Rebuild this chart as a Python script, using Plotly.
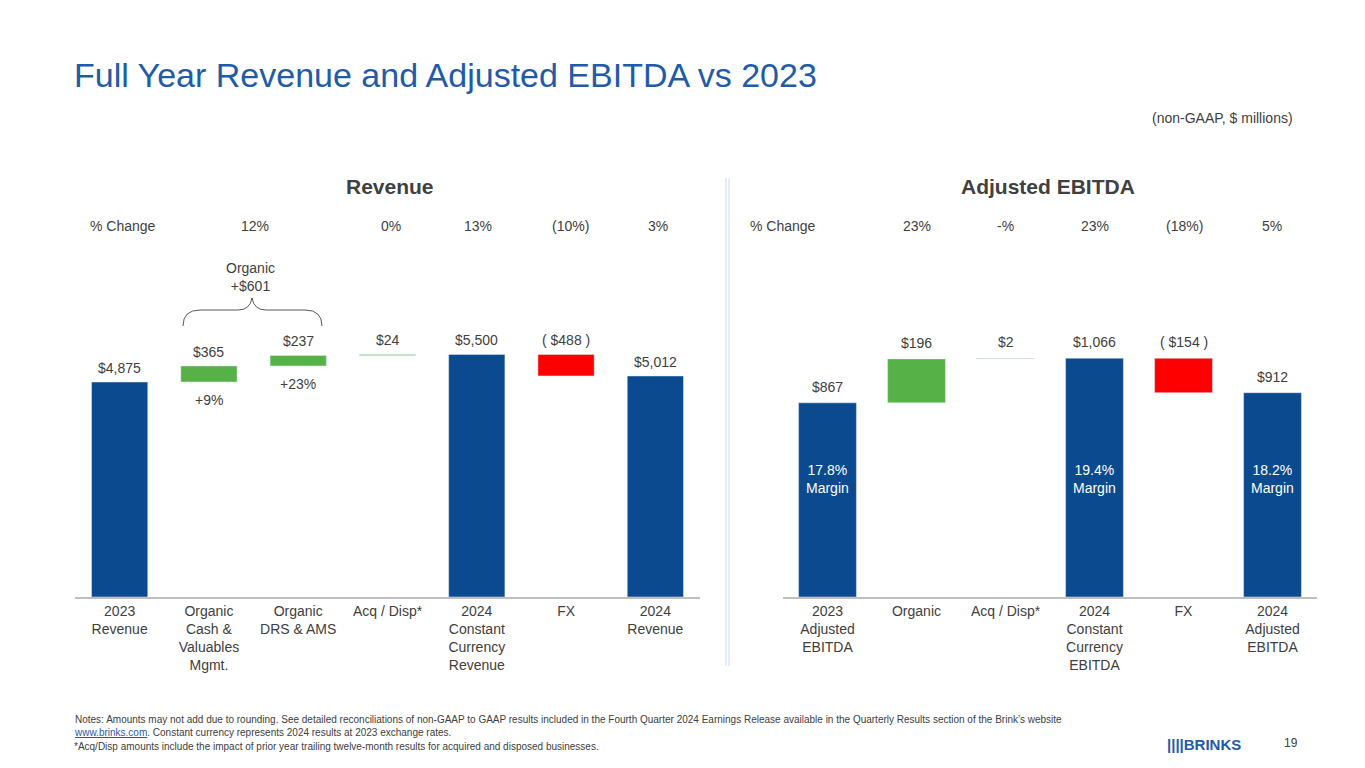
import plotly.graph_objects as go

rev_cats = ["2023<br>Revenue", "Organic<br>Cash &<br>Valuables<br>Mgmt.", "Organic<br>DRS & AMS", "Acq / Disp*", "2024<br>Constant<br>Currency<br>Revenue", "FX", "2024<br>Revenue"]
rev_vals = [4875, 365, 237, 24, 5500, -488, 5012]
rev_kind = ["total", "delta", "delta", "delta", "total", "delta", "total"]
rev_labels = ["$4,875", "$365", "$237", "$24", "$5,500", "( $488 )", "$5,012"]
rev_pct = ["% Change", "12%", "", "0%", "13%", "(10%)", "3%"]

eb_cats = ["2023<br>Adjusted<br>EBITDA", "Organic", "Acq / Disp*", "2024<br>Constant<br>Currency<br>EBITDA", "FX", "2024<br>Adjusted<br>EBITDA"]
eb_vals = [867, 196, 2, 1066, -154, 912]
eb_kind = ["total", "delta", "delta", "total", "delta", "total"]
eb_labels = ["$867", "$196", "$2", "$1,066", "( $154 )", "$912"]
eb_pct = ["% Change", "23%", "-%", "23%", "(18%)", "5%"]
eb_margin = ["17.8%<br>Margin", "", "", "19.4%<br>Margin", "", "18.2%<br>Margin"]

BLUE, GREEN, RED, TXT = "#0B4A8F", "#56B146", "#FF0000", "#404040"

def bars(vals, kind):
    base, height, col = [], [], []
    run = 0
    for v, k in zip(vals, kind):
        if k == "total":
            base.append(0); height.append(v); col.append(BLUE); run = v
        else:
            if v >= 0:
                base.append(run); height.append(v); col.append(GREEN)
            else:
                base.append(run + v); height.append(-v); col.append(RED)
            run += v
    return base, height, col

W, H = 1365, 768
OFF = 8
def px(x): return (x - OFF) / W
def py(y): return 1 - (y - OFF) / H

fig = go.Figure()
rb, rh, rc = bars(rev_vals, rev_kind)
eb, eh, ec = bars(eb_vals, eb_kind)
fig.add_trace(go.Bar(x=list(range(7)), y=rh, base=rb, marker_color=rc, width=0.63, xaxis="x", yaxis="y", hoverinfo="skip"))
fig.add_trace(go.Bar(x=list(range(6)), y=eh, base=eb, marker_color=ec, width=0.65, xaxis="x2", yaxis="y2", hoverinfo="skip"))

bot, top = py(597), py(300)
RR = 297 / 0.0441
ER = 297 / 0.224
fig.update_layout(
    width=W, height=H, margin=dict(l=0, r=0, t=0, b=0), showlegend=False,
    plot_bgcolor="white", paper_bgcolor="white", font=dict(family="Arial, Liberation Sans", color=TXT),
    xaxis=dict(domain=[px(75), px(700)], range=[-0.5, 6.5], tickvals=list(range(7)), ticktext=rev_cats,
               showgrid=False, showline=True, linecolor="#BFBFBF", linewidth=1.5, ticks="", tickfont=dict(size=14, color=TXT), anchor="y"),
    yaxis=dict(domain=[bot, top], range=[0, RR], visible=False, fixedrange=True),
    xaxis2=dict(domain=[px(783), px(1317)], range=[-0.5, 5.5], tickvals=list(range(6)), ticktext=eb_cats,
                showgrid=False, showline=True, linecolor="#BFBFBF", linewidth=1.5, ticks="", tickfont=dict(size=14, color=TXT), anchor="y2"),
    yaxis2=dict(domain=[bot, top], range=[0, ER], visible=False, fixedrange=True),
)

ann = []
def A(x, y, t, size=14, color=TXT, xref="paper", yref="paper", xanchor="center", yanchor="middle", **kw):
    ann.append(dict(x=x, y=y, text=t, xref=xref, yref=yref, showarrow=False, font=dict(size=size, color=color),
                    xanchor=xanchor, yanchor=yanchor, **kw))

A(px(72), py(75), "Full Year Revenue and Adjusted EBITDA vs 2023", size=34, color="#1F5BA8", xanchor="left")
A(px(1295), py(118), "(non-GAAP, $ millions)", size=14, xanchor="right")
A(px(390), py(186), "<b>Revenue</b>", size=21)
A(px(1048), py(186), "<b>Adjusted EBITDA</b>", size=21)

rev_pct_x = [123, 255, None, 391, 478, 570, 658]
for x, t in zip(rev_pct_x, rev_pct):
    if t: A(px(x), py(226), t)
eb_pct_x = [783, 917, 1006, 1095, 1184, 1272]
for x, t in zip(eb_pct_x, eb_pct):
    if t: A(px(x), py(226), t)

for i, t in enumerate(rev_labels):
    A(i, rb[i] + rh[i], t, xref="x", yref="y", yanchor="bottom", yshift=4)
A(1, rb[1], "+9%", xref="x", yref="y", yanchor="top", yshift=-8)
A(2, rb[2], "+23%", xref="x", yref="y", yanchor="top", yshift=-8)
for i, t in enumerate(eb_labels):
    A(i, eb[i] + eh[i], t, xref="x2", yref="y2", yanchor="bottom", yshift=6)
for i, t in enumerate(eb_margin):
    if t: A(i, 0, t, xref="x2", yref="y2", color="white", yshift=118)

A(px(250), py(277), "Organic<br>+$601")
A(px(72), py(726), "Notes: Amounts may not add due to rounding. See detailed reconciliations of non-GAAP to GAAP results included in the Fourth Quarter 2024 Earnings Release available in the Quarterly Results section of the Brink’s website<br><span style='color:#1F5BA8'><u>www.brinks.com</u></span>. Constant currency represents 2024 results at 2023 exchange rates.", size=10, xanchor="left", align="left")
A(px(72), py(746), "*Acq/Disp amounts include the impact of prior year trailing twelve-month results for acquired and disposed businesses.", size=10, xanchor="left")
A(px(1165), py(744), "<b>||||BRINKS</b>", size=15, color="#1F5BA8", xanchor="left")
A(px(1300), py(743), "19", size=12, xanchor="right")
fig.update_layout(annotations=ann)

fig.add_shape(type="path", xref="paper", yref="paper",
              path=f"M {px(183)},{py(326)} Q {px(183)},{py(310)} {px(200)},{py(310)} L {px(238)},{py(310)} Q {px(250)},{py(310)} {px(252)},{py(298)} Q {px(254)},{py(310)} {px(266)},{py(310)} L {px(305)},{py(310)} Q {px(322)},{py(310)} {px(322)},{py(326)}",
              line=dict(color="#595959", width=1))
fig.add_shape(type="line", xref="paper", yref="paper", x0=px(726), x1=px(726), y0=py(178), y1=py(666), line=dict(color="#C5DDF0", width=1))
fig.add_shape(type="line", xref="paper", yref="paper", x0=px(729), x1=px(729), y0=py(178), y1=py(666), line=dict(color="#C5DDF0", width=1))

fig.write_html("out.html")
